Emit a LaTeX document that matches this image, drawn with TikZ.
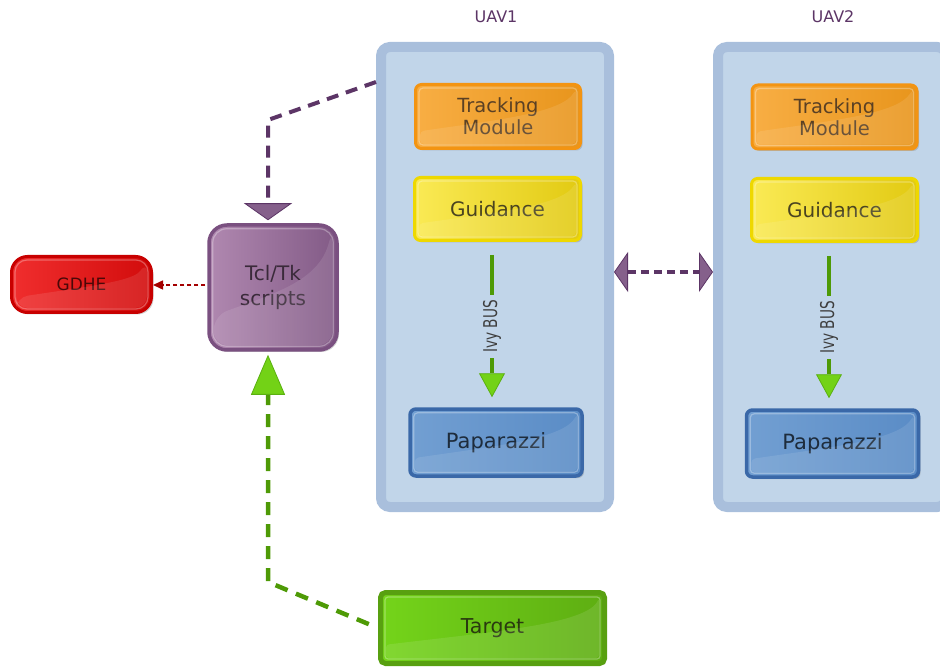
\documentclass[tikz,border=0pt]{standalone}
\usepackage{fontspec}
\setmainfont{DejaVu Sans}
\usetikzlibrary{arrows.meta,shadows,calc}
\definecolor{uavborder}{HTML}{A9BFDC}
\definecolor{uavfill}{HTML}{C1D5E9}
\definecolor{plumdark}{HTML}{5C3566}
\definecolor{plum}{HTML}{85608B}
\definecolor{greendark}{HTML}{4E9A06}
\definecolor{greenmid}{HTML}{73D216}
\definecolor{greentip}{HTML}{5AB010}
\definecolor{reddark}{HTML}{A40000}
\definecolor{ivytxt}{HTML}{3E3E3E}
\definecolor{orB}{HTML}{F39412}
\definecolor{orL}{HTML}{F8AE44}
\definecolor{orR}{HTML}{E8951C}
\definecolor{orT}{HTML}{5A4024}
\definecolor{yeB}{HTML}{EED800}
\definecolor{yeL}{HTML}{FAEA55}
\definecolor{yeR}{HTML}{E2CA12}
\definecolor{yeT}{HTML}{4A4420}
\definecolor{blB}{HTML}{3A68A8}
\definecolor{blL}{HTML}{729FD2}
\definecolor{blR}{HTML}{5A8CC6}
\definecolor{blT}{HTML}{1E2C3C}
\definecolor{puB}{HTML}{7A5080}
\definecolor{puL}{HTML}{B088B0}
\definecolor{puR}{HTML}{825A86}
\definecolor{puT}{HTML}{3A2A3A}
\definecolor{reB}{HTML}{C80000}
\definecolor{reL}{HTML}{F02E2E}
\definecolor{reR}{HTML}{D20C0C}
\definecolor{reT}{HTML}{4A0808}
\definecolor{grB}{HTML}{58A010}
\definecolor{grL}{HTML}{74D41A}
\definecolor{grR}{HTML}{5EAE12}
\definecolor{grT}{HTML}{2A3A10}
\tikzset{
  uavbox/.style={draw=uavborder,fill=uavfill,line width=10pt,rounded corners=9pt,
    minimum width=228pt,minimum height=460pt,inner sep=0pt},
  glossy/.style={rounded corners=6pt,inner sep=0pt,align=center,
    drop shadow={opacity=0.35,shadow xshift=2pt,shadow yshift=-2pt}},
  trackbox/.style={glossy,draw=orB,line width=3pt,left color=orL,right color=orR,text=orT,
    minimum width=165pt,minimum height=64pt,font=\fontsize{19.5}{22}\selectfont},
  guidebox/.style={glossy,draw=yeB,line width=3pt,left color=yeL,right color=yeR,text=yeT,
    minimum width=166pt,minimum height=63pt,font=\fontsize{20}{22}\selectfont},
  papbox/.style={glossy,draw=blB,line width=3.5pt,left color=blL,right color=blR,text=blT,
    minimum width=172pt,minimum height=67pt,font=\fontsize{21}{22}\selectfont},
  tclbox/.style={glossy,draw=puB,line width=3.5pt,left color=puL,right color=puR,
    rounded corners=18pt,minimum width=128pt,minimum height=125pt,text=puT,
    font=\fontsize{20}{25}\selectfont},
  gdhebox/.style={glossy,draw=reB,line width=3pt,left color=reL,right color=reR,
    rounded corners=16pt,minimum width=140pt,minimum height=56pt,text=reT,
    font=\fontsize{17}{19}\selectfont},
  targetbox/.style={glossy,draw=grB,line width=5pt,left color=grL,right color=grR,
    rounded corners=5pt,minimum width=224pt,minimum height=71pt,text=grT,
    font=\fontsize{20.5}{22}\selectfont},
  uavlabel/.style={text=plumdark,font=\fontsize{16}{18}\selectfont},
  ivylabel/.style={fill=uavfill,rotate=90,inner xsep=5pt,inner ysep=1pt,text=ivytxt,
    font=\fontsize{19}{20}\selectfont},
  pdash/.style={draw=plumdark,line width=4pt,dash pattern=on 12pt off 8pt},
  gdash/.style={draw=greendark,line width=4.5pt,dash pattern=on 13pt off 9pt},
  rdash/.style={draw=reddark,line width=1.5pt,dash pattern=on 4pt off 3pt},
  ivy/.style={draw=greendark,line width=4pt,shorten <=13pt,shorten >=10pt,
    -{Triangle[width=26pt,length=24pt,fill=greenmid,color=greentip,line width=0.8pt]}},
  rim/.style={draw=white,draw opacity=0.3,line width=1.2pt},
  shine/.style={fill=white,fill opacity=0.1},
}
\begin{document}
\begin{tikzpicture}[x=1pt,y=-1pt]
\path[use as bounding box] (0,0) rectangle (940,668);

% labels
\node[uavlabel] (l1) at (496,17) {UAV1};
\node[uavlabel] (l2) at (833,17) {UAV2};

% containers
\node[uavbox] (uav1) at (495,277) {};
\node[uavbox] (uav2) at (832,277) {};

% UAV1 modules
\node[trackbox] (track1) at (498,116.5) {Tracking\\Module};
\node[guidebox] (guide1) at (497.5,209) {Guidance};
\node[papbox] (pap1) at (496,442.5) {Paparazzi};
% UAV2 modules
\node[trackbox] (track2) at (834.5,117) {Tracking\\Module};
\node[guidebox] (guide2) at (834.5,210) {Guidance};
\node[papbox] (pap2) at (832.5,443.5) {Paparazzi};

% left side
\node[tclbox] (tcl) at (273,287.5) {Tcl/Tk\\scripts};
\node[gdhebox] (gdhe) at (81.5,284.5) {GDHE};
\node[targetbox] (target) at (492.5,628) {Target};

% glossy rims and highlights
\foreach \n/\s/\r in {track1/5/4,guide1/5/4,pap1/5.5/4,track2/5/4,guide2/5/4,pap2/5.5/4,tcl/5.5/14,gdhe/5/12,target/7/3}{
  \draw[rim,rounded corners=\r pt] ([shift={(\s,\s)}]\n.north west) rectangle ([shift={(-\s,-\s)}]\n.south east);
  \fill[shine,rounded corners=\r pt] ([shift={(\s+1,-\s-1)}]\n.south west)
    -- ($(\n.south west)!0.28!(\n.north west)+(\s+1,0)$)
    .. controls ($(\n.south)!0.45!(\n.north)$) and ($(\n.south east)!0.55!(\n.north east)+(-20,0)$)
    .. ([shift={(-\s-1,\s+1)}]\n.north east)
    -- ([shift={(-\s-1,-\s-1)}]\n.south east) -- cycle;
}

% Ivy bus
\draw[ivy] (guide1.south -| 492,0) -- node[ivylabel,pos=0.51]{\scalebox{0.72}[1]{Ivy BUS}} (pap1.north -| 492,0);
\draw[ivy] (guide2.south -| 829,0) -- node[ivylabel,pos=0.51]{\scalebox{0.72}[1]{Ivy BUS}} (pap2.north -| 829,0);

% purple dashed from UAV1 to Tcl
\coordinate (p1) at (376,82);
\draw[pdash,shorten >=3pt,-{Triangle[width=48pt,length=17pt,fill=plum,color=plumdark,line width=0.8pt]}]
  (p1) -- (268,120) -- (268,120 |- tcl.north);

% green dashed from Target to Tcl
\draw[gdash,shorten <=10pt,shorten >=3pt,-{Triangle[width=34pt,length=40pt,fill=greenmid,color=greentip,line width=0.8pt]}]
  (target.west) -- (268,582) -- (268,582 |- tcl.south);

% red dashed Tcl -> GDHE
\draw[rdash,-{Triangle[width=9pt,length=10pt]}] ([xshift=-2pt]tcl.west |- 0,285) -- (gdhe.east |- 0,285);

% double arrow between UAVs
\draw[pdash,line width=3.5pt,dash pattern=on 8pt off 5pt,
  {Triangle[width=40pt,length=14pt,fill=plum,color=plumdark,line width=0.8pt]}-{Triangle[width=40pt,length=14pt,fill=plum,color=plumdark,line width=0.8pt]}]
  (uav1.east |- 0,272) -- (uav2.west |- 0,272);
\end{tikzpicture}
\end{document}
